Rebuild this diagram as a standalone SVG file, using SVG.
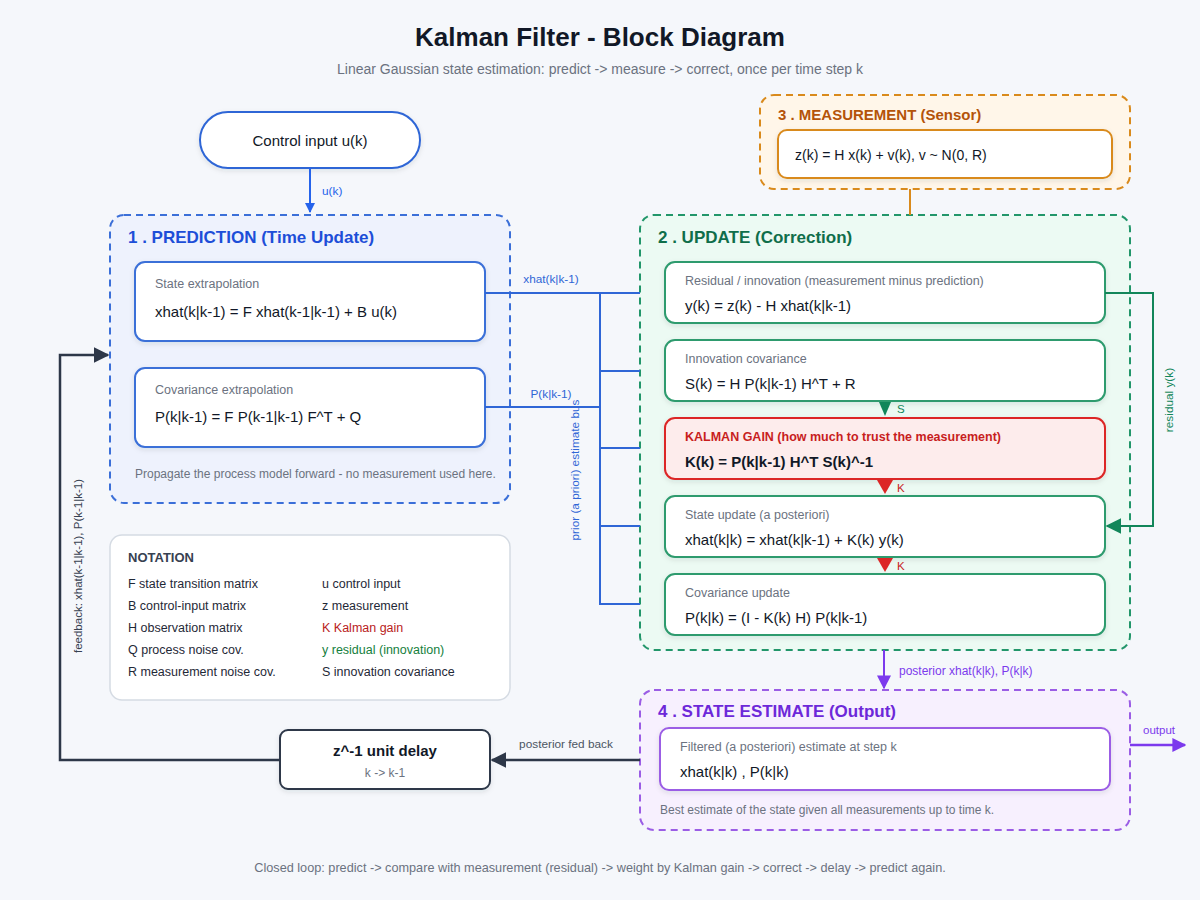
<svg xmlns="http://www.w3.org/2000/svg" width="1200" height="900" viewBox="0 0 1200 900">
<defs>
<filter id="sh" x="-10%" y="-20%" width="120%" height="150%">
<feDropShadow dx="0" dy="2" stdDeviation="2.5" flood-color="#1f2937" flood-opacity="0.10"/>
</filter>
<marker id="aBlue" viewBox="0 0 10 10" refX="9" refY="5" markerWidth="10" markerHeight="10" markerUnits="userSpaceOnUse" orient="auto"><path d="M0,0 L10,5 L0,10 z" fill="#2563eb"/></marker>
<marker id="aDark" viewBox="0 0 10 10" refX="9" refY="5" markerWidth="16" markerHeight="16" markerUnits="userSpaceOnUse" orient="auto"><path d="M0,0 L10,5 L0,10 z" fill="#2d3748"/></marker>
<marker id="aGreen" viewBox="0 0 10 10" refX="9" refY="5" markerWidth="16" markerHeight="16" markerUnits="userSpaceOnUse" orient="auto"><path d="M0,0 L10,5 L0,10 z" fill="#12865a"/></marker>
<marker id="aPurple" viewBox="0 0 10 10" refX="9" refY="5" markerWidth="14" markerHeight="14" markerUnits="userSpaceOnUse" orient="auto"><path d="M0,0 L10,5 L0,10 z" fill="#7c3aed"/></marker>
</defs>
<style>
text{font-family:"Liberation Sans",Arial,Helvetica,sans-serif}
.title{font-size:26px;font-weight:bold;fill:#111827}
.sub{font-size:14px;fill:#6b7280}
.gt{font-size:17px;font-weight:bold}
.lbl{font-size:12.5px;fill:#6b7280}
.fm{font-size:15px;fill:#111827}
.small{font-size:12px}
.cl{font-size:11.8px}
.box{fill:#ffffff;stroke-width:2;filter:url(#sh)}
.grp{stroke-width:2;stroke-dasharray:7 5}
.nt{font-size:12.5px;fill:#1f2937}
</style>
<rect width="1200" height="900" fill="#f5f7fb"/>

<text class="title" x="600" y="46" text-anchor="middle">Kalman Filter - Block Diagram</text>
<text class="sub" x="600" y="74" text-anchor="middle">Linear Gaussian state estimation: predict -&gt; measure -&gt; correct, once per time step k</text>

<g id="prediction">
<rect class="grp" x="110" y="215" width="400" height="288" rx="14" fill="#eef2fd" stroke="#3b6fd8"/>
<text class="gt" x="128" y="243" fill="#1d4ed8">1 . PREDICTION (Time Update)</text>
<g id="state-extrapolation">
<rect class="box" x="135" y="262" width="350" height="79" rx="10" stroke="#3b6fd8"/>
<text class="lbl" x="155" y="288">State extrapolation</text>
<text class="fm" x="155" y="317">xhat(k|k-1) = F xhat(k-1|k-1) + B u(k)</text>
</g>
<g id="covariance-extrapolation">
<rect class="box" x="135" y="368" width="350" height="79" rx="10" stroke="#3b6fd8"/>
<text class="lbl" x="155" y="394">Covariance extrapolation</text>
<text class="fm" x="155" y="422">P(k|k-1) = F P(k-1|k-1) F^T + Q</text>
</g>
<text class="small" x="135" y="478" fill="#6b7280">Propagate the process model forward - no measurement used here.</text>
</g>

<g id="update">
<rect class="grp" x="640" y="215" width="490" height="435" rx="14" fill="#ecfaf3" stroke="#22966a"/>
<text class="gt" x="658" y="243" fill="#0f6e4a">2 . UPDATE (Correction)</text>
<g id="residual">
<rect class="box" x="665" y="262" width="440" height="61" rx="10" stroke="#2e9b6e"/>
<text class="lbl" x="685" y="285">Residual / innovation (measurement minus prediction)</text>
<text class="fm" x="685" y="311">y(k) = z(k) - H xhat(k|k-1)</text>
</g>
<g id="innovation-covariance">
<rect class="box" x="665" y="340" width="440" height="61" rx="10" stroke="#2e9b6e"/>
<text class="lbl" x="685" y="363">Innovation covariance</text>
<text class="fm" x="685" y="389">S(k) = H P(k|k-1) H^T + R</text>
</g>
<g id="kalman-gain">
<rect class="box" x="665" y="418" width="440" height="61" rx="10" stroke="#dc2626" style="fill:#fdecec"/>
<text x="685" y="441" font-size="12.5" font-weight="bold" fill="#c81e1e">KALMAN GAIN (how much to trust the measurement)</text>
<text x="685" y="467" font-size="15" font-weight="bold" fill="#111827">K(k) = P(k|k-1) H^T S(k)^-1</text>
</g>
<g id="state-update">
<rect class="box" x="665" y="496" width="440" height="61" rx="10" stroke="#2e9b6e"/>
<text class="lbl" x="685" y="519">State update (a posteriori)</text>
<text class="fm" x="685" y="545">xhat(k|k) = xhat(k|k-1) + K(k) y(k)</text>
</g>
<g id="covariance-update">
<rect class="box" x="665" y="574" width="440" height="61" rx="10" stroke="#2e9b6e"/>
<text class="lbl" x="685" y="597">Covariance update</text>
<text class="fm" x="685" y="623">P(k|k) = (I - K(k) H) P(k|k-1)</text>
</g>
</g>

<g id="measurement">
<rect class="grp" x="760" y="95" width="370" height="94" rx="14" fill="#fff6e9" stroke="#d98a1c"/>
<text x="778" y="120" font-size="15" font-weight="bold" fill="#b45309">3 . MEASUREMENT (Sensor)</text>
<rect class="box" x="778" y="130" width="334" height="48" rx="9" stroke="#d98a1c"/>
<text x="795" y="160" font-size="14" fill="#111827">z(k) = H x(k) + v(k), v ~ N(0, R)</text>
</g>

<g id="state-estimate">
<rect class="grp" x="640" y="690" width="490" height="140" rx="14" fill="#f7f0fe" stroke="#9b5de5"/>
<text class="gt" x="658" y="717" fill="#6d28d9">4 . STATE ESTIMATE (Output)</text>
<rect class="box" x="660" y="728" width="450" height="62" rx="9" stroke="#9b5de5"/>
<text class="lbl" x="680" y="751">Filtered (a posteriori) estimate at step k</text>
<text class="fm" x="680" y="777">xhat(k|k) , P(k|k)</text>
<text class="small" x="660" y="814" fill="#6b7280">Best estimate of the state given all measurements up to time k.</text>
</g>

<g id="control-input">
<rect class="box" x="200" y="112" width="220" height="56" rx="28" stroke="#2f66d6"/>
<text x="310" y="146" font-size="15" fill="#111827" text-anchor="middle">Control input u(k)</text>
</g>

<g id="unit-delay">
<rect class="box" x="280" y="730" width="210" height="59" rx="8" stroke="#2d3748"/>
<text x="385" y="756" font-size="15" font-weight="bold" fill="#111827" text-anchor="middle">z^-1 unit delay</text>
<text x="385" y="777" font-size="12" fill="#6b7280" text-anchor="middle">k -&gt; k-1</text>
</g>

<g id="notation">
<rect x="110" y="535" width="400" height="165" rx="12" fill="#ffffff" stroke="#d5dbe3" stroke-width="1.5"/>
<text x="128" y="562" font-size="13" font-weight="bold" fill="#374151">NOTATION</text>
<text class="nt" x="128" y="588">F state transition matrix</text>
<text class="nt" x="128" y="610">B control-input matrix</text>
<text class="nt" x="128" y="632">H observation matrix</text>
<text class="nt" x="128" y="654">Q process noise cov.</text>
<text class="nt" x="128" y="676">R measurement noise cov.</text>
<text class="nt" x="322" y="588">u control input</text>
<text class="nt" x="322" y="610">z measurement</text>
<text class="nt" x="322" y="632" style="fill:#b91c1c">K Kalman gain</text>
<text class="nt" x="322" y="654" style="fill:#15803d">y residual (innovation)</text>
<text class="nt" x="322" y="676">S innovation covariance</text>
</g>

<g id="connectors" fill="none">
<line x1="310" y1="168" x2="310" y2="212" stroke="#2563eb" stroke-width="2" marker-end="url(#aBlue)"/>
<text class="cl" x="322" y="195" fill="#2563eb" stroke="none">u(k)</text>
<g stroke="#2f66d6" stroke-width="2">
<polyline points="485,293 640,293"/>
<polyline points="485,407 600,407"/>
<polyline points="600,293 600,604 640,604"/>
<polyline points="600,371 640,371"/>
<polyline points="600,448 640,448"/>
<polyline points="600,526 640,526"/>
</g>
<text class="cl" x="551" y="283" fill="#2f66d6" text-anchor="middle" stroke="none">xhat(k|k-1)</text>
<text class="cl" x="551" y="398" fill="#2f66d6" text-anchor="middle" stroke="none">P(k|k-1)</text>
<text class="cl" transform="translate(579,470) rotate(-90)" fill="#2f66d6" text-anchor="middle" stroke="none">prior (a priori) estimate bus</text>
<line x1="910" y1="189" x2="910" y2="215" stroke="#d98a1c" stroke-width="2"/>
<path d="M879,402 L891,402 L885,416 z" fill="#12865a" stroke="none"/>
<text x="897" y="413" font-size="11.5" fill="#12865a" stroke="none">S</text>
<path d="M877,480 L893,480 L885,494 z" fill="#dc2626" stroke="none"/>
<text x="897" y="492" font-size="11.5" fill="#c81e1e" stroke="none">K</text>
<path d="M877,558 L893,558 L885,572 z" fill="#dc2626" stroke="none"/>
<text x="897" y="570" font-size="11.5" fill="#c81e1e" stroke="none">K</text>
<polyline points="1105,293 1153,293 1153,526 1107,526" stroke="#12865a" stroke-width="2" marker-end="url(#aGreen)"/>
<text class="cl" transform="translate(1173,400) rotate(-90)" fill="#12865a" text-anchor="middle" stroke="none">residual y(k)</text>
<line x1="884" y1="650" x2="884" y2="688" stroke="#7c3aed" stroke-width="2" marker-end="url(#aPurple)"/>
<text x="899" y="675" font-size="12" fill="#7c3aed" stroke="none">posterior xhat(k|k), P(k|k)</text>
<line x1="1130" y1="745" x2="1185" y2="745" stroke="#7c3aed" stroke-width="2.5" marker-end="url(#aPurple)"/>
<text x="1159" y="734" font-size="11.5" fill="#7c3aed" text-anchor="middle" stroke="none">output</text>
<line x1="640" y1="760" x2="492" y2="760" stroke="#2d3748" stroke-width="2.5" marker-end="url(#aDark)"/>
<text class="cl" x="566" y="748" fill="#4b5563" text-anchor="middle" stroke="none">posterior fed back</text>
<polyline points="280,760 60,760 60,355 108,355" stroke="#2d3748" stroke-width="2.5" marker-end="url(#aDark)"/>
<text transform="translate(82,566) rotate(-90)" font-size="11.5" fill="#374151" text-anchor="middle" stroke="none">feedback: xhat(k-1|k-1), P(k-1|k-1)</text>
</g>

<text x="600" y="872" font-size="12.7" fill="#6b7280" text-anchor="middle">Closed loop: predict -&gt; compare with measurement (residual) -&gt; weight by Kalman gain -&gt; correct -&gt; delay -&gt; predict again.</text>
</svg>
